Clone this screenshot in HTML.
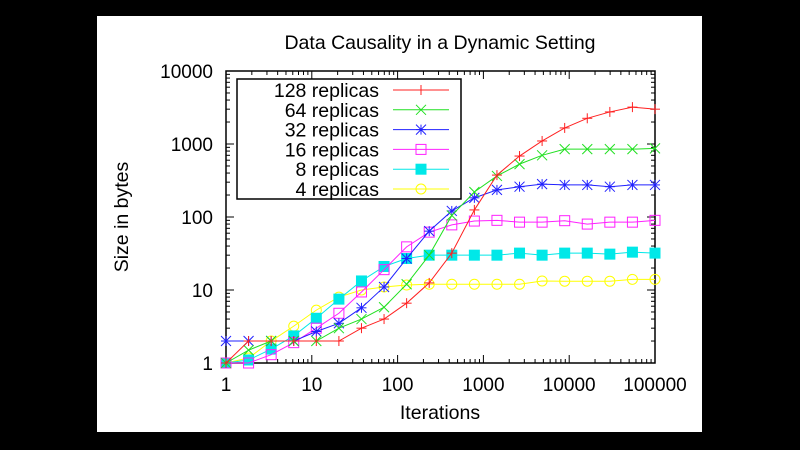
<!DOCTYPE html>
<html><head><meta charset="utf-8"><style>
html,body{margin:0;padding:0;background:#000;width:800px;height:450px;overflow:hidden}
svg{display:block}
text{font-family:"Liberation Sans",sans-serif;fill:#000}
</style></head><body>
<svg id="chart" width="800" height="450" xmlns="http://www.w3.org/2000/svg">
<rect x="0" y="0" width="800" height="450" fill="#000"/>
<rect x="97" y="16" width="605" height="416" fill="#fff"/>
<text x="440" y="49" font-size="19.5" text-anchor="middle">Data Causality in a Dynamic Setting</text>
<text x="440" y="419" font-size="19.5" text-anchor="middle">Iterations</text>
<text transform="translate(128,217) rotate(-90)" font-size="19.5" text-anchor="middle">Size in bytes</text>
<g id="axes"></g>
<g id="series"></g>
<g id="legend"></g>
</svg>
<script>
const xTickLabels = ["1","10","100","1000","10000","100000"];
const yTickLabels = ["1","10","100","1000","10000"];
const seriesNames = ["128 replicas","64 replicas","32 replicas","16 replicas","8 replicas","4 replicas"];
const seriesColors = ["#ff2020","#20e020","#2020ff","#ff20ff","#00e8e8","#ffff00"];
const seriesMarkers = ["plus","x","star","square","filled-square","circle"];
const iterExponents = [0,1,2,3,4,5,6,7,8,9,10,11,12,13,14,15,16,17,18,19];
const s128 = [1,2,2,2,2,2,3.0,4.0,6.6,12.5,32,125,375,684,1100,1660,2250,2750,3200,3000];
const s64 = [1,1.5,2,2,2,3.0,4.0,5.8,12,30,105,220,365,530,700,850,850,850,850,870];
const s32 = [2,2,2,2,2.7,3.5,5.7,11,27,64,121,183,235,260,282,275,275,260,275,275];
const s16 = [1,1,1.3,1.9,3.0,4.8,9.4,19,39,62,78,88,90,85,85,89,80,85,85,90];
const s8 = [1,1.1,1.55,2.35,4.1,7.5,13.3,21,27,30,30,30,30,32,30,32,32,31,33,32];
const s4 = [1,1.17,2,3.2,5.3,8,10,11,11.7,12,12,12,12,12,13.3,13.2,13.2,13.2,14,14];
const allSeries = [s128,s64,s32,s16,s8,s4];

const L=226,R=655,T=71,B=363;
const NS="http://www.w3.org/2000/svg";
function xs(v){return L+(Math.log10(v)/5)*(R-L);}
function ys(v){return B-(Math.log10(v)/4)*(B-T);}
function iterVal(i){return Math.pow(10,5*i/19);}
function mk(tag,attrs,parent){const e=document.createElementNS(NS,tag);for(const k in attrs)e.setAttribute(k,attrs[k]);parent.appendChild(e);return e;}

const axes=document.getElementById('axes');
const frame=mk('rect',{x:L,y:T,width:R-L,height:B-T,fill:'none',stroke:'#000','stroke-width':1.5},axes);


for(let d=0;d<=5;d++){
  for(let m=1;m<=9;m++){
    const v=Math.pow(10,d)*m; if(v>100000)break;
    const x=xs(v); const len=m===1?8:4;
    const t1=mk('line',{x1:x,y1:B,x2:x,y2:B-len,stroke:'#000','stroke-width':1},axes);
    
    
    const t2=mk('line',{x1:x,y1:T,x2:x,y2:T+len,stroke:'#000','stroke-width':1},axes);
    
    
  }
}
xTickLabels.forEach((lab,i)=>{
  const t=mk('text',{x:xs(Math.pow(10,i)),y:391,'font-size':19,'text-anchor':'middle'},axes);
  t.textContent=lab;
  
  
});
for(let d=0;d<=4;d++){
  for(let m=1;m<=9;m++){
    const v=Math.pow(10,d)*m; if(v>10000)break;
    const y=ys(v); const len=m===1?8:4;
    const t1=mk('line',{x1:L,y1:y,x2:L+len,y2:y,stroke:'#000','stroke-width':1},axes);
    
    
    const t2=mk('line',{x1:R,y1:y,x2:R-len,y2:y,stroke:'#000','stroke-width':1},axes);
    
    
  }
}
yTickLabels.forEach((lab,i)=>{
  const t=mk('text',{x:213,y:ys(Math.pow(10,i))+7,'font-size':19,'text-anchor':'end'},axes);
  t.textContent=lab;
  
  
});

function drawMarker(g,type,x,y,c){
  const s=5;
  if(type==='plus'){
    mk('line',{x1:x-s,y1:y,x2:x+s,y2:y,stroke:c},g);mk('line',{x1:x,y1:y-s,x2:x,y2:y+s,stroke:c},g);
  }else if(type==='x'){
    mk('line',{x1:x-s,y1:y-s,x2:x+s,y2:y+s,stroke:c},g);mk('line',{x1:x-s,y1:y+s,x2:x+s,y2:y-s,stroke:c},g);
  }else if(type==='star'){
    mk('line',{x1:x-s,y1:y,x2:x+s,y2:y,stroke:c},g);mk('line',{x1:x,y1:y-s,x2:x,y2:y+s,stroke:c},g);
    mk('line',{x1:x-s,y1:y-s,x2:x+s,y2:y+s,stroke:c},g);mk('line',{x1:x-s,y1:y+s,x2:x+s,y2:y-s,stroke:c},g);
  }else if(type==='square'){
    mk('rect',{x:x-s,y:y-s,width:2*s,height:2*s,fill:'none',stroke:c},g);
  }else if(type==='filled-square'){
    mk('rect',{x:x-s,y:y-s,width:2*s,height:2*s,fill:c,stroke:c},g);
  }else{
    mk('circle',{cx:x,cy:y,r:s,fill:'none',stroke:c},g);
  }
}

const sg=document.getElementById('series');
for(let k=allSeries.length-1;k>=0;k--){
  const vals=allSeries[k],c=seriesColors[k];
  const g=mk('g',{},sg);
  
  
  const pts=vals.map((v,i)=>xs(iterVal(iterExponents[i]))+','+ys(v)).join(' ');
  const pl=mk('polyline',{points:pts,fill:'none',stroke:c,'stroke-width':1},g);
  
  
  vals.forEach((v,i)=>drawMarker(g,seriesMarkers[k],xs(iterVal(iterExponents[i])),ys(v),c));
}

const lg=document.getElementById('legend');
const box=mk('rect',{x:237,y:79,width:224,height:120,fill:'#fff',stroke:'#000','stroke-width':1.5},lg);


seriesNames.forEach((n,k)=>{
  const y=90+k*19.8;
  const g=mk('g',{},lg);
  
  
  const t=mk('text',{x:379,y:y+7,'font-size':19.5,'text-anchor':'end'},g);
  t.textContent=n;
  mk('line',{x1:393,y1:y,x2:449,y2:y,stroke:seriesColors[k]},g);
  drawMarker(g,seriesMarkers[k],421,y,seriesColors[k]);
});
</script>
</body></html>
